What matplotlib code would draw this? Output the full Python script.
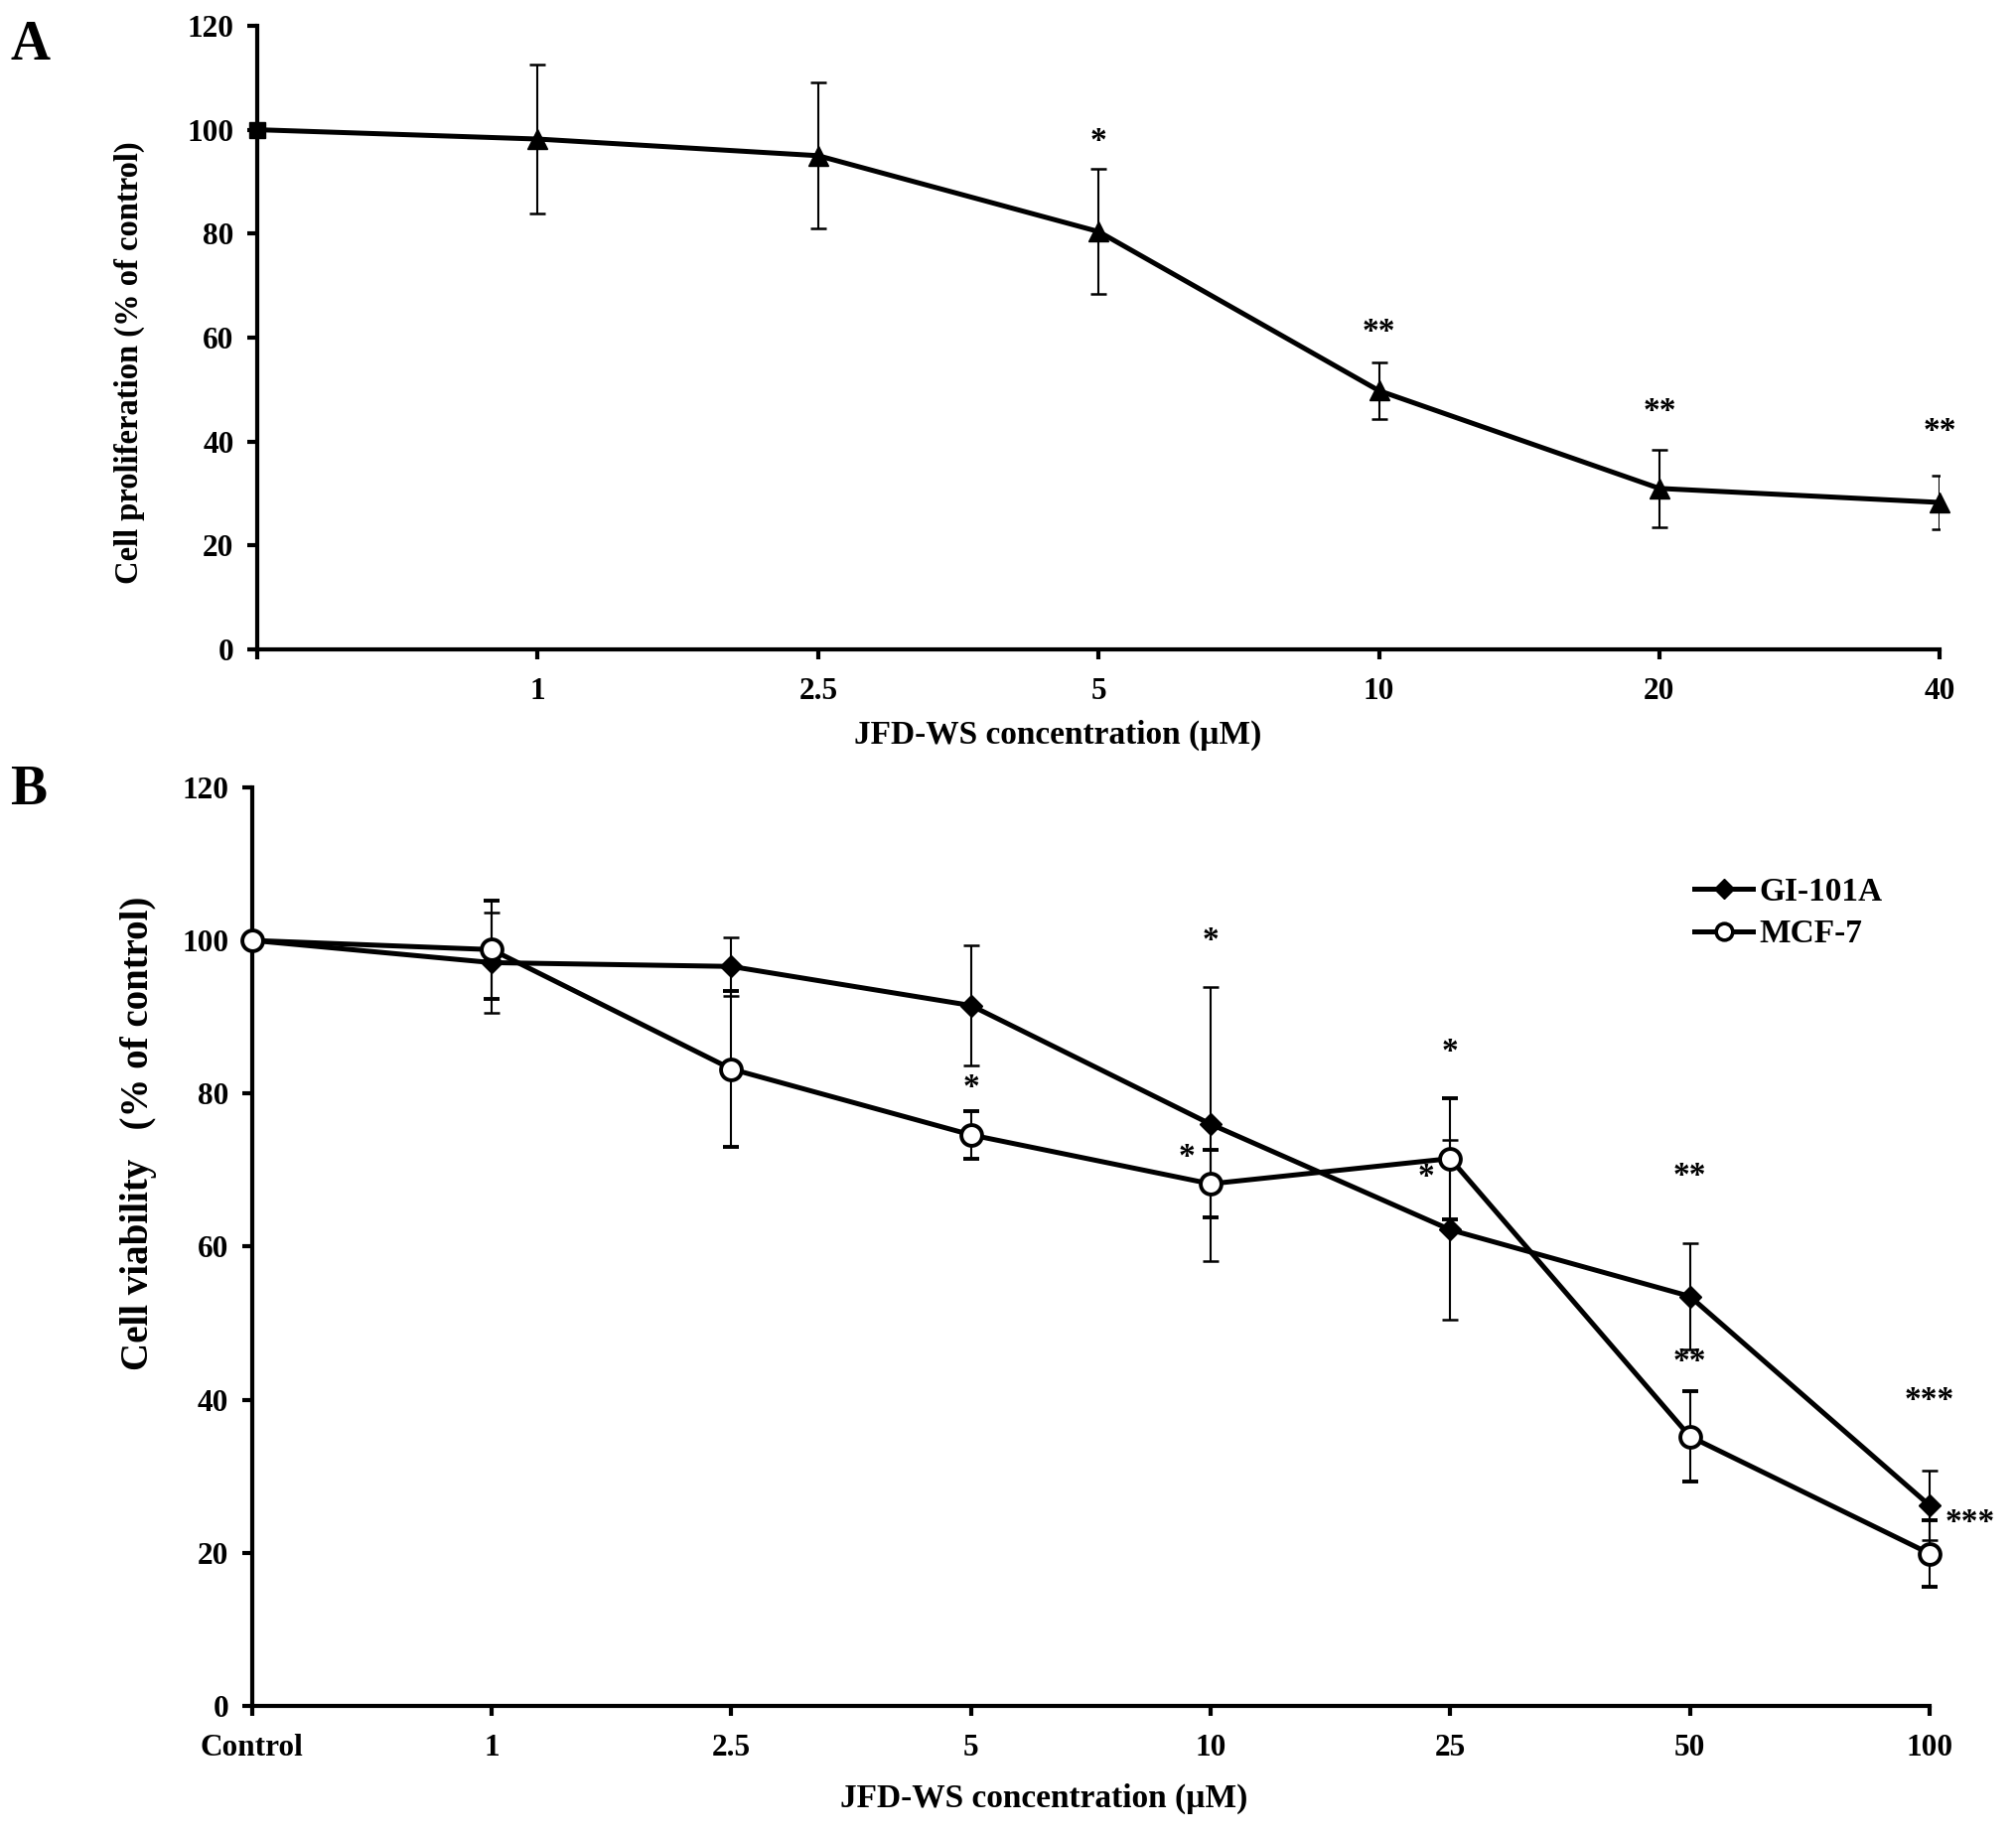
import matplotlib
matplotlib.use("Agg")
import matplotlib.pyplot as plt
from matplotlib.lines import Line2D

plt.rcParams['font.family'] = ['Liberation Serif', 'DejaVu Serif']
plt.rcParams['font.weight'] = 'bold'

# ---------------- Panel A data ----------------
a_labels = ['', '1', '2.5', '5', '10', '20', '40']
a_values = [100, 98.2, 95.0, 80.4, 49.8, 31.0, 28.3]
a_errors = [0, 14.3, 14.0, 12.0, 5.5, 7.4, 5.2]
a_stars = ['', '', '', '*', '**', '**', '**']
a_star_y = [None, None, None, 97.7, 61.0, 45.8, 42.0]

# ---------------- Panel B data ----------------
b_labels = ['Control', '1', '2.5', '5', '10', '25', '50', '100']
gi_values = [100, 97.1, 96.6, 91.5, 76.0, 62.2, 53.5, 26.2]
gi_errors = [0, 6.5, 3.8, 7.9, 17.9, 11.7, 7.0, 4.5]
mcf_values = [100, 98.8, 83.2, 74.6, 68.2, 71.5, 35.2, 19.9]
mcf_errors = [0, 6.4, 10.2, 3.1, 4.4, 7.9, 5.9, 4.3]
gi_stars = ['', '', '', '', '*', '*', '**', '***']
gi_star_y = [None, None, None, None, 100.0, 69.1, 69.2, 39.9]
gi_star_dx = [0, 0, 0, 0, 0, -0.1, 0, 0]
mcf_stars = ['', '', '', '*', '*', '*', '**', '***']
mcf_star_y = [None, None, None, 80.7, 71.7, 85.4, 44.9, 23.9]
mcf_star_dx = [0, 0, 0, 0, -0.1, 0, 0, 0.17]
series_names = ['GI-101A', 'MCF-7']

W, H = 2031, 1850
fig = plt.figure(figsize=(W / 100, H / 100), dpi=100)

LW = 3.6
SP = 3.0
TICK_FS = 22.5
STAR_FS = 24


def style_axes(ax, n):
    for s in ['top', 'right']:
        ax.spines[s].set_visible(False)
    for s in ['left', 'bottom']:
        ax.spines[s].set_linewidth(SP)
    ax.set_xlim(0, n - 1)
    ax.set_ylim(0, 120)
    ax.set_yticks(range(0, 121, 20))
    ax.set_xticks(range(n))
    ax.tick_params(axis='both', direction='out', length=7, width=SP,
                   labelsize=TICK_FS)
    ax.tick_params(axis='x', pad=13)
    ax.tick_params(axis='y', pad=10)
    for t in ax.get_yticklabels() + ax.get_xticklabels():
        t.set_fontweight('bold')


# ---------------- Panel A ----------------
axA = fig.add_axes([0.1276, 0.6464, 0.8341, 0.3396])
xa = list(range(len(a_values)))
axA.errorbar(xa, a_values, yerr=a_errors, color='black', lw=LW,
             elinewidth=1.5, capsize=6, capthick=1.8, fmt='-', zorder=2)
axA.plot(xa[:1], a_values[:1], 's', color='black', ms=11, zorder=3,
         clip_on=False)
axA.plot(xa[1:], a_values[1:], '^', color='black', ms=14, zorder=3,
         clip_on=False)
style_axes(axA, len(a_values))
axA.set_xticklabels(a_labels)
for x, s, y in zip(xa, a_stars, a_star_y):
    if s:
        axA.text(x, y, s, ha='center', va='center', fontsize=STAR_FS,
                 fontweight='bold')
axA.set_ylabel('Cell proliferation (% of control)', fontsize=23.5,
               fontweight='bold')
axA.yaxis.set_label_coords(-0.067, 0.46)
axA.set_xlabel('JFD-WS concentration (µM)', fontsize=24,
               fontweight='bold', va='top')
axA.xaxis.set_label_coords(0.476, -0.113)
fig.text(0.005, 0.975, 'A', fontsize=40, fontweight='bold', va='center')

# ---------------- Panel B ----------------
axB = fig.add_axes([0.125, 0.0714, 0.8316, 0.5000])
xb = list(range(len(b_labels)))
axB.errorbar(xb, gi_values, yerr=gi_errors, color='black', lw=LW,
             elinewidth=1.5, capsize=6, capthick=1.8, fmt='-D', ms=11,
             mfc='black', mec='black', zorder=2, clip_on=False)
axB.errorbar(xb, mcf_values, yerr=mcf_errors, color='black', lw=LW,
             elinewidth=1.5, capsize=6, capthick=1.8, fmt='-o', ms=15,
             mfc='white', mec='black', mew=2.8, zorder=3, clip_on=False)
style_axes(axB, len(b_labels))
axB.set_xticklabels(b_labels)
for x, s, y, dx in zip(xb, gi_stars, gi_star_y, gi_star_dx):
    if s:
        axB.text(x + dx, y, s, ha='center', va='center', fontsize=STAR_FS,
                 fontweight='bold', clip_on=False)
for x, s, y, dx in zip(xb, mcf_stars, mcf_star_y, mcf_star_dx):
    if s:
        axB.text(x + dx, y, s, ha='center', va='center', fontsize=STAR_FS,
                 fontweight='bold', clip_on=False)
axB.set_ylabel('Cell viability   (% of control)', fontsize=28,
               fontweight='bold')
axB.yaxis.set_label_coords(-0.057, 0.623)
axB.set_xlabel('JFD-WS concentration (µM)', fontsize=24,
               fontweight='bold', va='top')
axB.xaxis.set_label_coords(0.472, -0.084)

handles = [
    Line2D([], [], color='black', lw=LW, marker='D', ms=10, mfc='black'),
    Line2D([], [], color='black', lw=LW, marker='o', ms=12, mfc='white',
           mew=2.6),
]
leg = axB.legend(handles, series_names, loc='center left',
                 bbox_to_anchor=(0.860, 0.863), frameon=False, fontsize=24,
                 handlelength=1.75, handletextpad=0.2, labelspacing=0.35,
                 borderpad=0, borderaxespad=0)
for t in leg.get_texts():
    t.set_fontweight('bold')
fig.text(0.005, 0.57, 'B', fontsize=40, fontweight='bold', va='center')

fig.savefig('out.png', dpi=100)
